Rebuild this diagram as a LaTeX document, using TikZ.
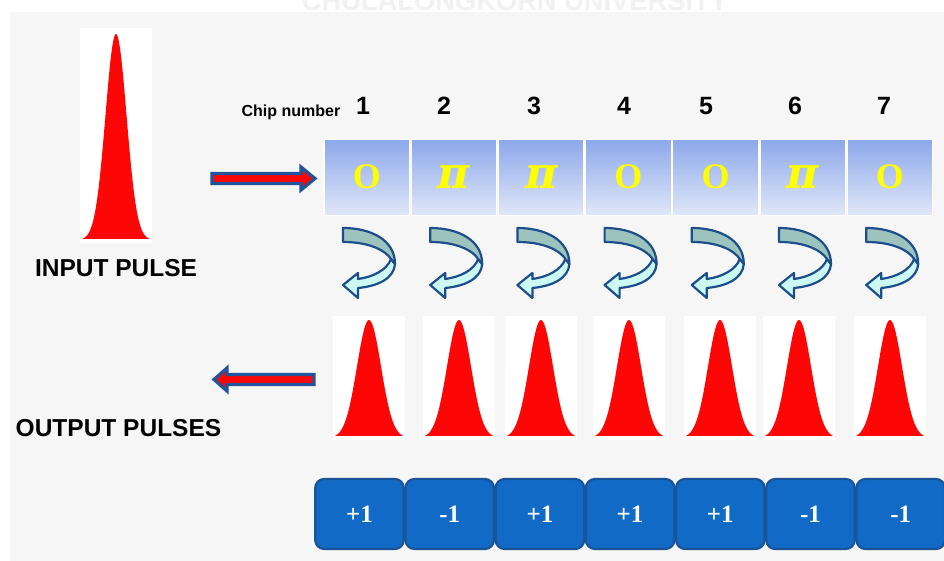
\documentclass[tikz,border=0pt]{standalone}
\usepackage{fontspec}
\setmainfont{Liberation Sans}
\newfontfamily\serifbf{Liberation Serif}
\newfontfamily\pifont{DejaVu Serif}
\definecolor{bgtex}{HTML}{F6F6F6}
\definecolor{wmark}{HTML}{F1F1F1}
\definecolor{chiptop}{RGB}{140,168,234}
\definecolor{chipbot}{RGB}{224,231,248}
\definecolor{pulsered}{RGB}{255,6,6}
\definecolor{valfill}{RGB}{17,106,198}
\definecolor{valedge}{RGB}{26,84,150}
\definecolor{arrowblue}{RGB}{34,84,156}
\definecolor{twistdark}{RGB}{157,196,188}
\definecolor{twistlight}{RGB}{204,250,242}
\definecolor{twistedge}{RGB}{28,78,140}
\definecolor{chipyellow}{RGB}{255,255,0}
\newcommand{\pisym}{{\pifont\bfseries\itshape\fontsize{44}{44}\selectfont π}}
\begin{document}
\begin{tikzpicture}[x=1pt,y=-1pt,
  chipbox/.style={minimum width=85.5pt, minimum height=76pt, inner sep=0pt, draw=white, line width=1.2pt,
    top color=chiptop, bottom color=chipbot, text=chipyellow,
    font=\serifbf\bfseries\fontsize{36}{36}\selectfont},
  valbox/.style={rounded corners=9pt, minimum width=88.5pt, minimum height=70pt, inner sep=0pt,
    fill=valfill, draw=valedge, line width=2.2pt, text=white,
    font=\serifbf\bfseries\fontsize{25}{25}\selectfont},
  bigarrow/.style={fill=pulsered, draw=arrowblue, line width=3.2pt, line join=miter},
  labeltext/.style={font=\bfseries\fontsize{24.5}{24.5}\selectfont, inner sep=0pt},
  digittext/.style={font=\bfseries\fontsize{25}{25}\selectfont, inner sep=0pt},
  twistline/.style={draw=twistedge, line width=2.2pt, line join=round},
  twist/.pic={
    \path[twistline, fill=twistlight] (52,36) .. controls (51,50) and (36,58) .. (15,60) -- (15,70) -- (0,57) -- (15,45) -- (15,51)
      .. controls (30,49) and (44,42) .. (48,31) -- cycle;
    \path[twistline, fill=twistdark] (0,0) .. controls (28,0) and (52,12) .. (52,36) -- (48,31)
      .. controls (42,22) and (26,14) .. (0,14) -- cycle;
  }
]
\useasboundingbox (0,0) rectangle (944,561);
\fill[white] (0,0) rectangle (944,561);
\fill[bgtex] (10,12) rectangle (944,561);
\node[font=\bfseries\fontsize{27.3}{27.3}\selectfont, text=wmark, anchor=base, inner sep=0pt] (wm) at (515,11) {CHULALONGKORN UNIVERSITY};

% input pulse
\fill[white] (80,28) rectangle (152,243);
\fill[pulsered] plot[domain=-34:34, samples=90] ({116+\x},{240-206*exp(-(\x*\x)/(2*10.5*10.5))}) -- cycle;
\node[labeltext] (inlabel) at (116,268) {INPUT PULSE};
\node[labeltext] (outlabel) at (118.5,428) {OUTPUT PULSES};

% arrows
\draw[bigarrow] (212,173.5) -- (301,173.5) -- (301,167) -- (315,178.5) -- (301,190) -- (301,183.5) -- (212,183.5) -- cycle;
\draw[bigarrow] (314,374.5) -- (227,374.5) -- (227,368) -- (214,379.5) -- (227,391) -- (227,384.5) -- (314,384.5) -- cycle;

% chip number row
\node[font=\bfseries\fontsize{16}{16}\selectfont, inner sep=0pt] (chiplabel) at (291,112) {Chip number};
\foreach \i/\dx in {1/363,2/444,3/534,4/624,5/706,6/795,7/884}{
  \node[digittext] (num\i) at (\dx,106) {\i};
}

% chip boxes
\foreach \i/\s in {1/O,2/\pisym,3/\pisym,4/O,5/O,6/\pisym,7/O}{
  \node[chipbox] (chip\i) at ({366.75+87.2*(\i-1)},177.25) {\s};
}

% curved arrows
\foreach \i in {1,...,7}{
  \pic at ({343+87.2*(\i-1)},228) {twist};
}

% output pulses
\foreach \c in {369,459,541,629,720,799,890}{
  \fill[white] ({\c-36},316) rectangle ({\c+36},440);
  \fill[pulsered] plot[domain=-34:34, samples=80] ({\c+\x},{438-118*exp(-(\x*\x)/(2*12*12))}) -- cycle;
}

% values
\foreach \i/\v in {1/+1,2/-1,3/+1,4/+1,5/+1,6/-1,7/-1}{
  \node[valbox] (val\i) at ({359.5+90.2*(\i-1)},514) {\v};
}
\end{tikzpicture}
\end{document}
